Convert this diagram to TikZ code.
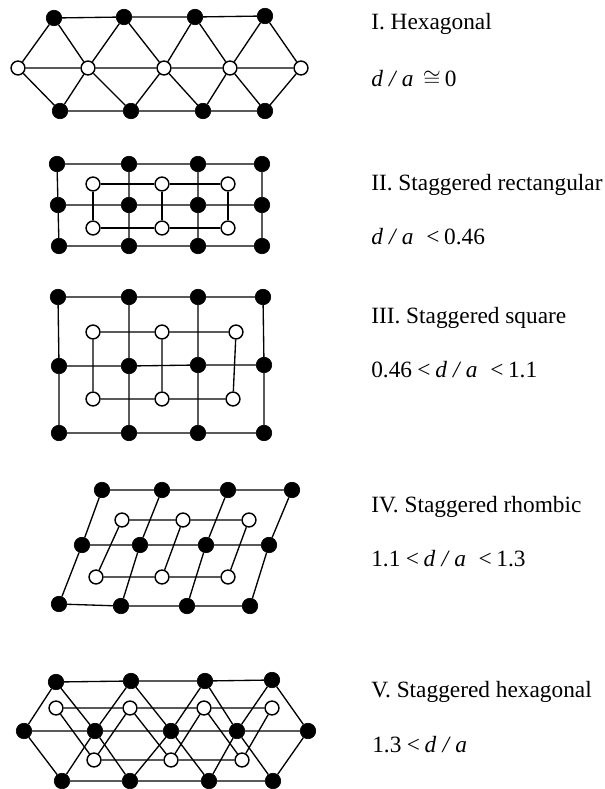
\documentclass[tikz,border=0pt]{standalone}
\usepackage{fontspec}
\setmainfont{Liberation Serif}
\usetikzlibrary{backgrounds}
\tikzset{
  x=0.75pt,y=-0.75pt,
  bdot/.style={circle,fill=black,draw=black,line width=0.5pt,minimum size=11.6pt,inner sep=0pt},
  wdot/.style={circle,fill=white,draw=black,line width=1.1pt,minimum size=10.4pt,inner sep=0pt},
  lat/.style={line width=1pt,black},
  lab/.style={anchor=base west,inner sep=0pt,font=\fontsize{17.5pt}{20pt}\selectfont}
}
\newcommand{\placeall}[2]{\foreach \n/\x/\y in {#2}{\node[#1] (\n) at (\x,\y) {};}}
\newcommand{\da}{\textit{d\kern4.7pt/\kern4.7pt a}}
\newcommand{\lt}{\kern4pt<\kern3.5pt}
\begin{document}
\begin{tikzpicture}
\useasboundingbox (0,0) rectangle (605,789);
% Structure I
\placeall{bdot}{a1/54/18,a2/124/17,a3/195/17,a4/265/16,c1/60/111,c2/131/111,c3/203/111,c4/265/111}
\placeall{wdot}{b1/18/68,b2/88/68,b3/164/68,b4/230/68,b5/301/68}
% Structure II
\placeall{bdot}{d1/57/164,d2/129/164,d3/198/164,d4/262/164,f1/58/205,f2/129/205,f3/198/205,f4/262/205,h1/59/246,h2/129/246,h3/198/246,h4/262/246}
\placeall{wdot}{e1/93/184,e2/162/184,e3/228/184,g1/93/228,g2/162/228,g3/228/228}
% Structure III
\placeall{bdot}{i1/58/297,i2/129/297,i3/198/297,i4/263/297,k1/59/366,k2/129/366,k3/198/365,k4/264/365,m1/59/433,m2/129/433,m3/198/433,m4/264/433}
\placeall{wdot}{j1/93/332,j2/162/332,j3/236/332,l1/93/399,l2/162/399,l3/233/399}
% Structure IV
\placeall{bdot}{n1/102/490,n2/162/490,n3/228/490,n4/292/490,p1/82/545,p2/140/545,p3/206/545,p4/269/545,r1/59/604,r2/121/606,r3/187/606,r4/250/606}
\placeall{wdot}{o1/122/520,o2/183/520,o3/249/520,q1/96/577,q2/162/577,q3/228/577}
% Structure V
\placeall{bdot}{s1/56/682,s2/131/681,s3/205/681,s4/272/680,u1/24/731,u2/95/731,u3/171/731,u4/237/731,u5/308/731,w1/62/781,w2/130/781,w3/209/781,w4/273/781}
\placeall{wdot}{t1/56/708,t2/130/708,t3/204/708,t4/272/708,v1/94/760,v2/171/760,v3/242/760}
\begin{scope}[on background layer]
\draw[lat] (a1)--(a2) (a2)--(a3) (a3)--(a4) (c1)--(c2) (c2)--(c3) (c3)--(c4)
 (b1)--(b2) (b2)--(b3) (b3)--(b4) (b4)--(b5)
 (a1)--(b1) (a1)--(b2) (a2)--(b2) (a2)--(b3) (a3)--(b3) (a3)--(b4) (a4)--(b4) (a4)--(b5)
 (c1)--(b1) (c1)--(b2) (c2)--(b2) (c2)--(b3) (c3)--(b3) (c3)--(b4) (c4)--(b4) (c4)--(b5);
\draw[lat] (d1)--(d2) (d2)--(d3) (d3)--(d4) (f1)--(f2) (f2)--(f3) (f3)--(f4) (h1)--(h2) (h2)--(h3) (h3)--(h4)
 (d1)--(f1) (f1)--(h1) (d2)--(f2) (f2)--(h2) (d3)--(f3) (f3)--(h3) (d4)--(f4) (f4)--(h4);
\draw[lat] (e1)--(e2) (e2)--(e3) (g1)--(g2) (g2)--(g3) (e1)--(g1) (e2)--(g2) (e3)--(g3);
\draw[lat] (i1)--(i2) (i2)--(i3) (i3)--(i4) (k1)--(k2) (k2)--(k3) (k3)--(k4) (m1)--(m2) (m2)--(m3) (m3)--(m4)
 (i1)--(k1) (k1)--(m1) (i2)--(k2) (k2)--(m2) (i3)--(k3) (k3)--(m3) (i4)--(k4) (k4)--(m4);
\draw[lat] (j1)--(j2) (j2)--(j3) (l1)--(l2) (l2)--(l3) (j1)--(l1) (j2)--(l2) (j3)--(l3);
\draw[lat] (n1)--(n2) (n2)--(n3) (n3)--(n4) (p1)--(p2) (p2)--(p3) (p3)--(p4) (r1)--(r2) (r2)--(r3) (r3)--(r4)
 (n1)--(p1) (p1)--(r1) (n2)--(p2) (p2)--(r2) (n3)--(p3) (p3)--(r3) (n4)--(p4) (p4)--(r4);
\draw[lat] (o1)--(o2) (o2)--(o3) (q1)--(q2) (q2)--(q3) (o1)--(q1) (o2)--(q2) (o3)--(q3);
\draw[lat] (s1)--(s2) (s2)--(s3) (s3)--(s4) (w1)--(w2) (w2)--(w3) (w3)--(w4)
 (u1)--(u2) (u2)--(u3) (u3)--(u4) (u4)--(u5)
 (s1)--(u1) (s1)--(u2) (s2)--(u2) (s2)--(u3) (s3)--(u3) (s3)--(u4) (s4)--(u4) (s4)--(u5)
 (w1)--(u1) (w1)--(u2) (w2)--(u2) (w2)--(u3) (w3)--(u3) (w3)--(u4) (w4)--(u4) (w4)--(u5);
\draw[lat] (t1)--(t2) (t2)--(t3) (t3)--(t4) (v1)--(v2) (v2)--(v3)
 (t1)--(v1) (t2)--(v1) (t2)--(v2) (t3)--(v2) (t3)--(v3) (t4)--(v3);
\end{scope}
% Labels
\node[lab] (t1a) at (371,29) {I. Hexagonal};
\node[lab] (t1b) at (371,86) {\da\kern7pt$\cong$\kern3pt0};
\node[lab] (t2a) at (371,190) {II. Staggered rectangular};
\node[lab] (t2b) at (371,244) {\da\kern5.5pt\lt0.46};
\node[lab] (t3a) at (371,323) {III. Staggered square};
\node[lab] (t3b) at (371,377) {0.46\lt\da\kern5.5pt\lt1.1};
\node[lab] (t4a) at (371,512) {IV. Staggered rhombic};
\node[lab] (t4b) at (371,566) {1.1\lt\da\kern5.5pt\lt1.3};
\node[lab] (t5a) at (371,697) {V. Staggered hexagonal};
\node[lab] (t5b) at (372,752) {1.3\lt\da};
\end{tikzpicture}
\end{document}
